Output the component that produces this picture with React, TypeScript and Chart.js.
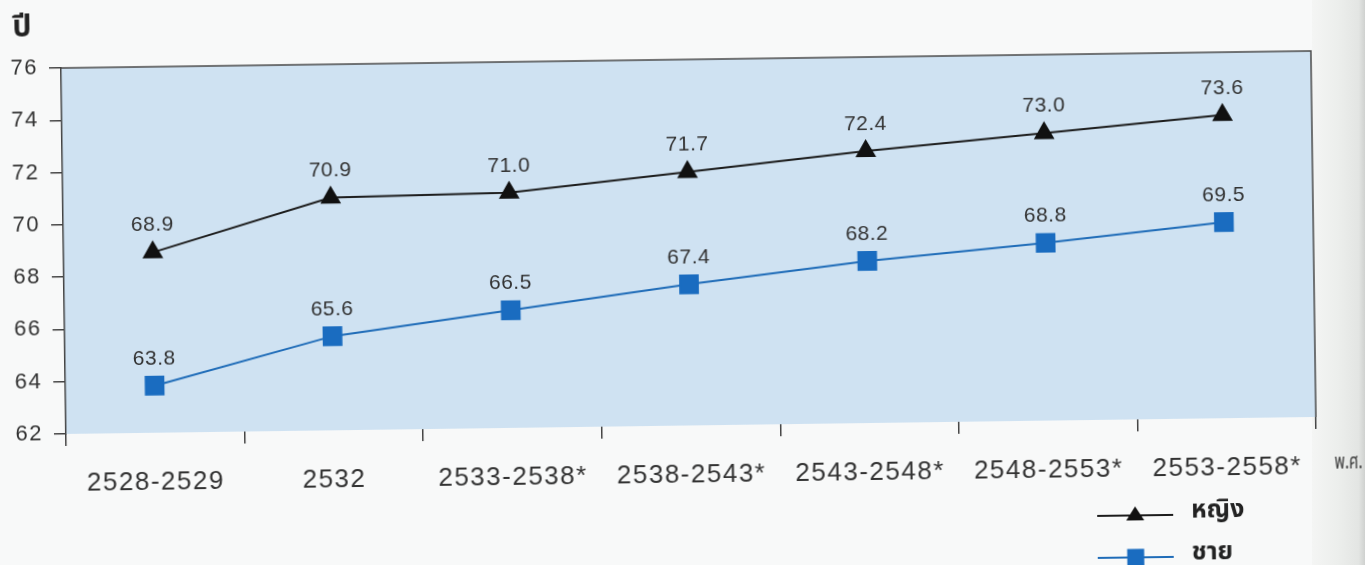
import React, { useEffect, useRef } from "react";
import { Chart, registerables } from "chart.js";

Chart.register(...registerables);

const categories = ["2528-2529", "2532", "2533-2538*", "2538-2543*", "2543-2548*", "2548-2553*", "2553-2558*"];
const femaleValues = [68.9, 70.9, 71.0, 71.7, 72.4, 73.0, 73.6];
const maleValues = [63.8, 65.6, 66.5, 67.4, 68.2, 68.8, 69.5];
const seriesNames = ["หญิง", "ชาย"];
const yAxisTitle = "ปี";
const xAxisUnit = "พ.ศ.";
const yMin = 62;
const yMax = 76;
const yStep = 2;

const LATIN = "'Liberation Sans', Arial, sans-serif";
const THAI = "'Noto Sans Thai', 'Noto Sans', 'DejaVu Sans', sans-serif";
const W = 1365;
const H = 600;

const decorPlugin = {
  id: "decor",
  beforeDraw(chart: any) {
    const { ctx, chartArea } = chart;
    ctx.save();
    ctx.fillStyle = "#cfe2f2";
    ctx.fillRect(chartArea.left, chartArea.top, chartArea.right - chartArea.left, chartArea.bottom - chartArea.top);
    ctx.strokeStyle = "#4a4a4a";
    ctx.lineWidth = 1.5;
    ctx.beginPath();
    ctx.moveTo(chartArea.left, chartArea.top);
    ctx.lineTo(chartArea.right, chartArea.top);
    ctx.lineTo(chartArea.right, chartArea.bottom);
    ctx.stroke();
    ctx.restore();
    ctx.letterSpacing = "1.5px";
  },
  beforeDatasetsDraw(chart: any) {
    chart.ctx.letterSpacing = "0px";
  },
  afterDatasetsDraw(chart: any) {
    const { ctx } = chart;
    ctx.save();
    ctx.letterSpacing = "0.5px";
    ctx.font = `21px ${LATIN}`;
    ctx.fillStyle = "#333";
    ctx.textAlign = "center";
    ctx.textBaseline = "middle";
    chart.data.datasets.forEach((ds: any, i: number) => {
      const meta = chart.getDatasetMeta(i);
      meta.data.forEach((pt: any, j: number) => {
        ctx.fillText(Number(ds.data[j]).toFixed(1), pt.x, pt.y - 27);
      });
    });
    ctx.restore();
  },
  afterDraw(chart: any) {
    const { ctx } = chart;
    ctx.save();
    ctx.letterSpacing = "0px";
    // axis title
    ctx.fillStyle = "#222";
    ctx.font = `bold 30px ${THAI}`;
    ctx.textAlign = "left";
    ctx.textBaseline = "middle";
    ctx.fillText(yAxisTitle, 13, 30);
    // x unit
    ctx.save();
    ctx.translate(1329, 482);
    ctx.scale(0.72, 1);
    ctx.font = `21px ${THAI}`;
    ctx.fillStyle = "#3a3a3a";
    ctx.fillText(xAxisUnit, 0, 0);
    ctx.restore();
    // legend
    const rows = [530, 572];
    chart.data.datasets.forEach((ds: any, i: number) => {
      const y = rows[i];
      ctx.strokeStyle = ds.borderColor;
      ctx.lineWidth = 2;
      ctx.beginPath();
      ctx.moveTo(1091, y);
      ctx.lineTo(1167, y);
      ctx.stroke();
      ctx.fillStyle = ds.pointBackgroundColor;
      const cx = 1129;
      if (ds.pointStyle === "triangle") {
        ctx.beginPath();
        ctx.moveTo(cx, y - 9);
        ctx.lineTo(cx + 9, y + 5);
        ctx.lineTo(cx - 9, y + 5);
        ctx.closePath();
        ctx.fill();
      } else {
        ctx.fillRect(cx - 8.5, y - 8.5, 17, 17);
      }
      ctx.fillStyle = "#222";
      ctx.font = `bold 25px ${THAI}`;
      ctx.textAlign = "left";
      ctx.textBaseline = "middle";
      ctx.fillText(ds.label, 1185, y - 2);
    });
    ctx.restore();
  },
};

export default function App() {
  const canvasRef = useRef<HTMLCanvasElement | null>(null);

  useEffect(() => {
    const canvas = canvasRef.current;
    if (!canvas) return;
    const chart = new Chart(canvas, {
      type: "line",
      data: {
        labels: categories,
        datasets: [
          {
            label: seriesNames[0],
            data: femaleValues,
            borderColor: "#1c1c1c",
            backgroundColor: "#111",
            pointBackgroundColor: "#111",
            pointBorderColor: "#111",
            pointStyle: "triangle",
            pointRadius: 10,
            pointHoverRadius: 10,
            borderWidth: 2,
            tension: 0,
          },
          {
            label: seriesNames[1],
            data: maleValues,
            borderColor: "#1f6cb8",
            backgroundColor: "#1a6cc0",
            pointBackgroundColor: "#1a6cc0",
            pointBorderColor: "#1a6cc0",
            pointStyle: "rect",
            pointRadius: 12.5,
            pointHoverRadius: 12.5,
            borderWidth: 2,
            tension: 0,
          },
        ],
      },
      options: {
        animation: false,
        responsive: false,
        maintainAspectRatio: false,
        events: [],
        layout: { padding: { top: 68, right: 54, left: 0, bottom: H - 434 - 80 } },
        plugins: {
          legend: { display: false },
          tooltip: { enabled: false },
          title: { display: false },
        },
        scales: {
          x: {
            type: "category",
            offset: true,
            grid: { offset: true, drawOnChartArea: false, tickLength: 12, color: "#444", lineWidth: 1.5 },
            border: { display: false },
            ticks: {
              font: { size: 26, family: LATIN },
              color: "#333",
              padding: 22,
              maxRotation: 0,
              autoSkip: false,
            },
            afterFit: (s: any) => {
              s.height = 80;
            },
          },
          y: {
            min: yMin,
            max: yMax,
            grid: { drawOnChartArea: false, tickLength: 12, color: "#444", lineWidth: 1.5 },
            border: { display: true, color: "#444", width: 1.5 },
            ticks: {
              stepSize: yStep,
              font: { size: 22, family: LATIN },
              color: "#333",
              padding: 11,
            },
            afterFit: (s: any) => {
              s.width = 61;
            },
          },
        },
      },
      plugins: [decorPlugin],
    });
    return () => chart.destroy();
  }, []);

  return (
    <div
      style={{
        position: "fixed",
        left: 0,
        top: 0,
        width: W,
        height: 565,
        overflow: "hidden",
        background: "#f8f9f9",
      }}
    >
      <div
        style={{
          position: "absolute",
          left: 1312,
          top: 0,
          width: W - 1312,
          height: 565,
          background: "linear-gradient(to right, #f4f5f4 0%, #eceeec 50%, #e3e5e3 88%, #cfd1cf 100%)",
        }}
      />
      <div
        style={{
          position: "absolute",
          left: 0,
          top: 0,
          width: W,
          height: H,
          transform: "rotate(-0.78deg)",
          transformOrigin: "61px 68px",
        }}
      >
        <canvas ref={canvasRef} width={W} height={H} style={{ width: W, height: H, display: "block" }} />
      </div>
    </div>
  );
}
